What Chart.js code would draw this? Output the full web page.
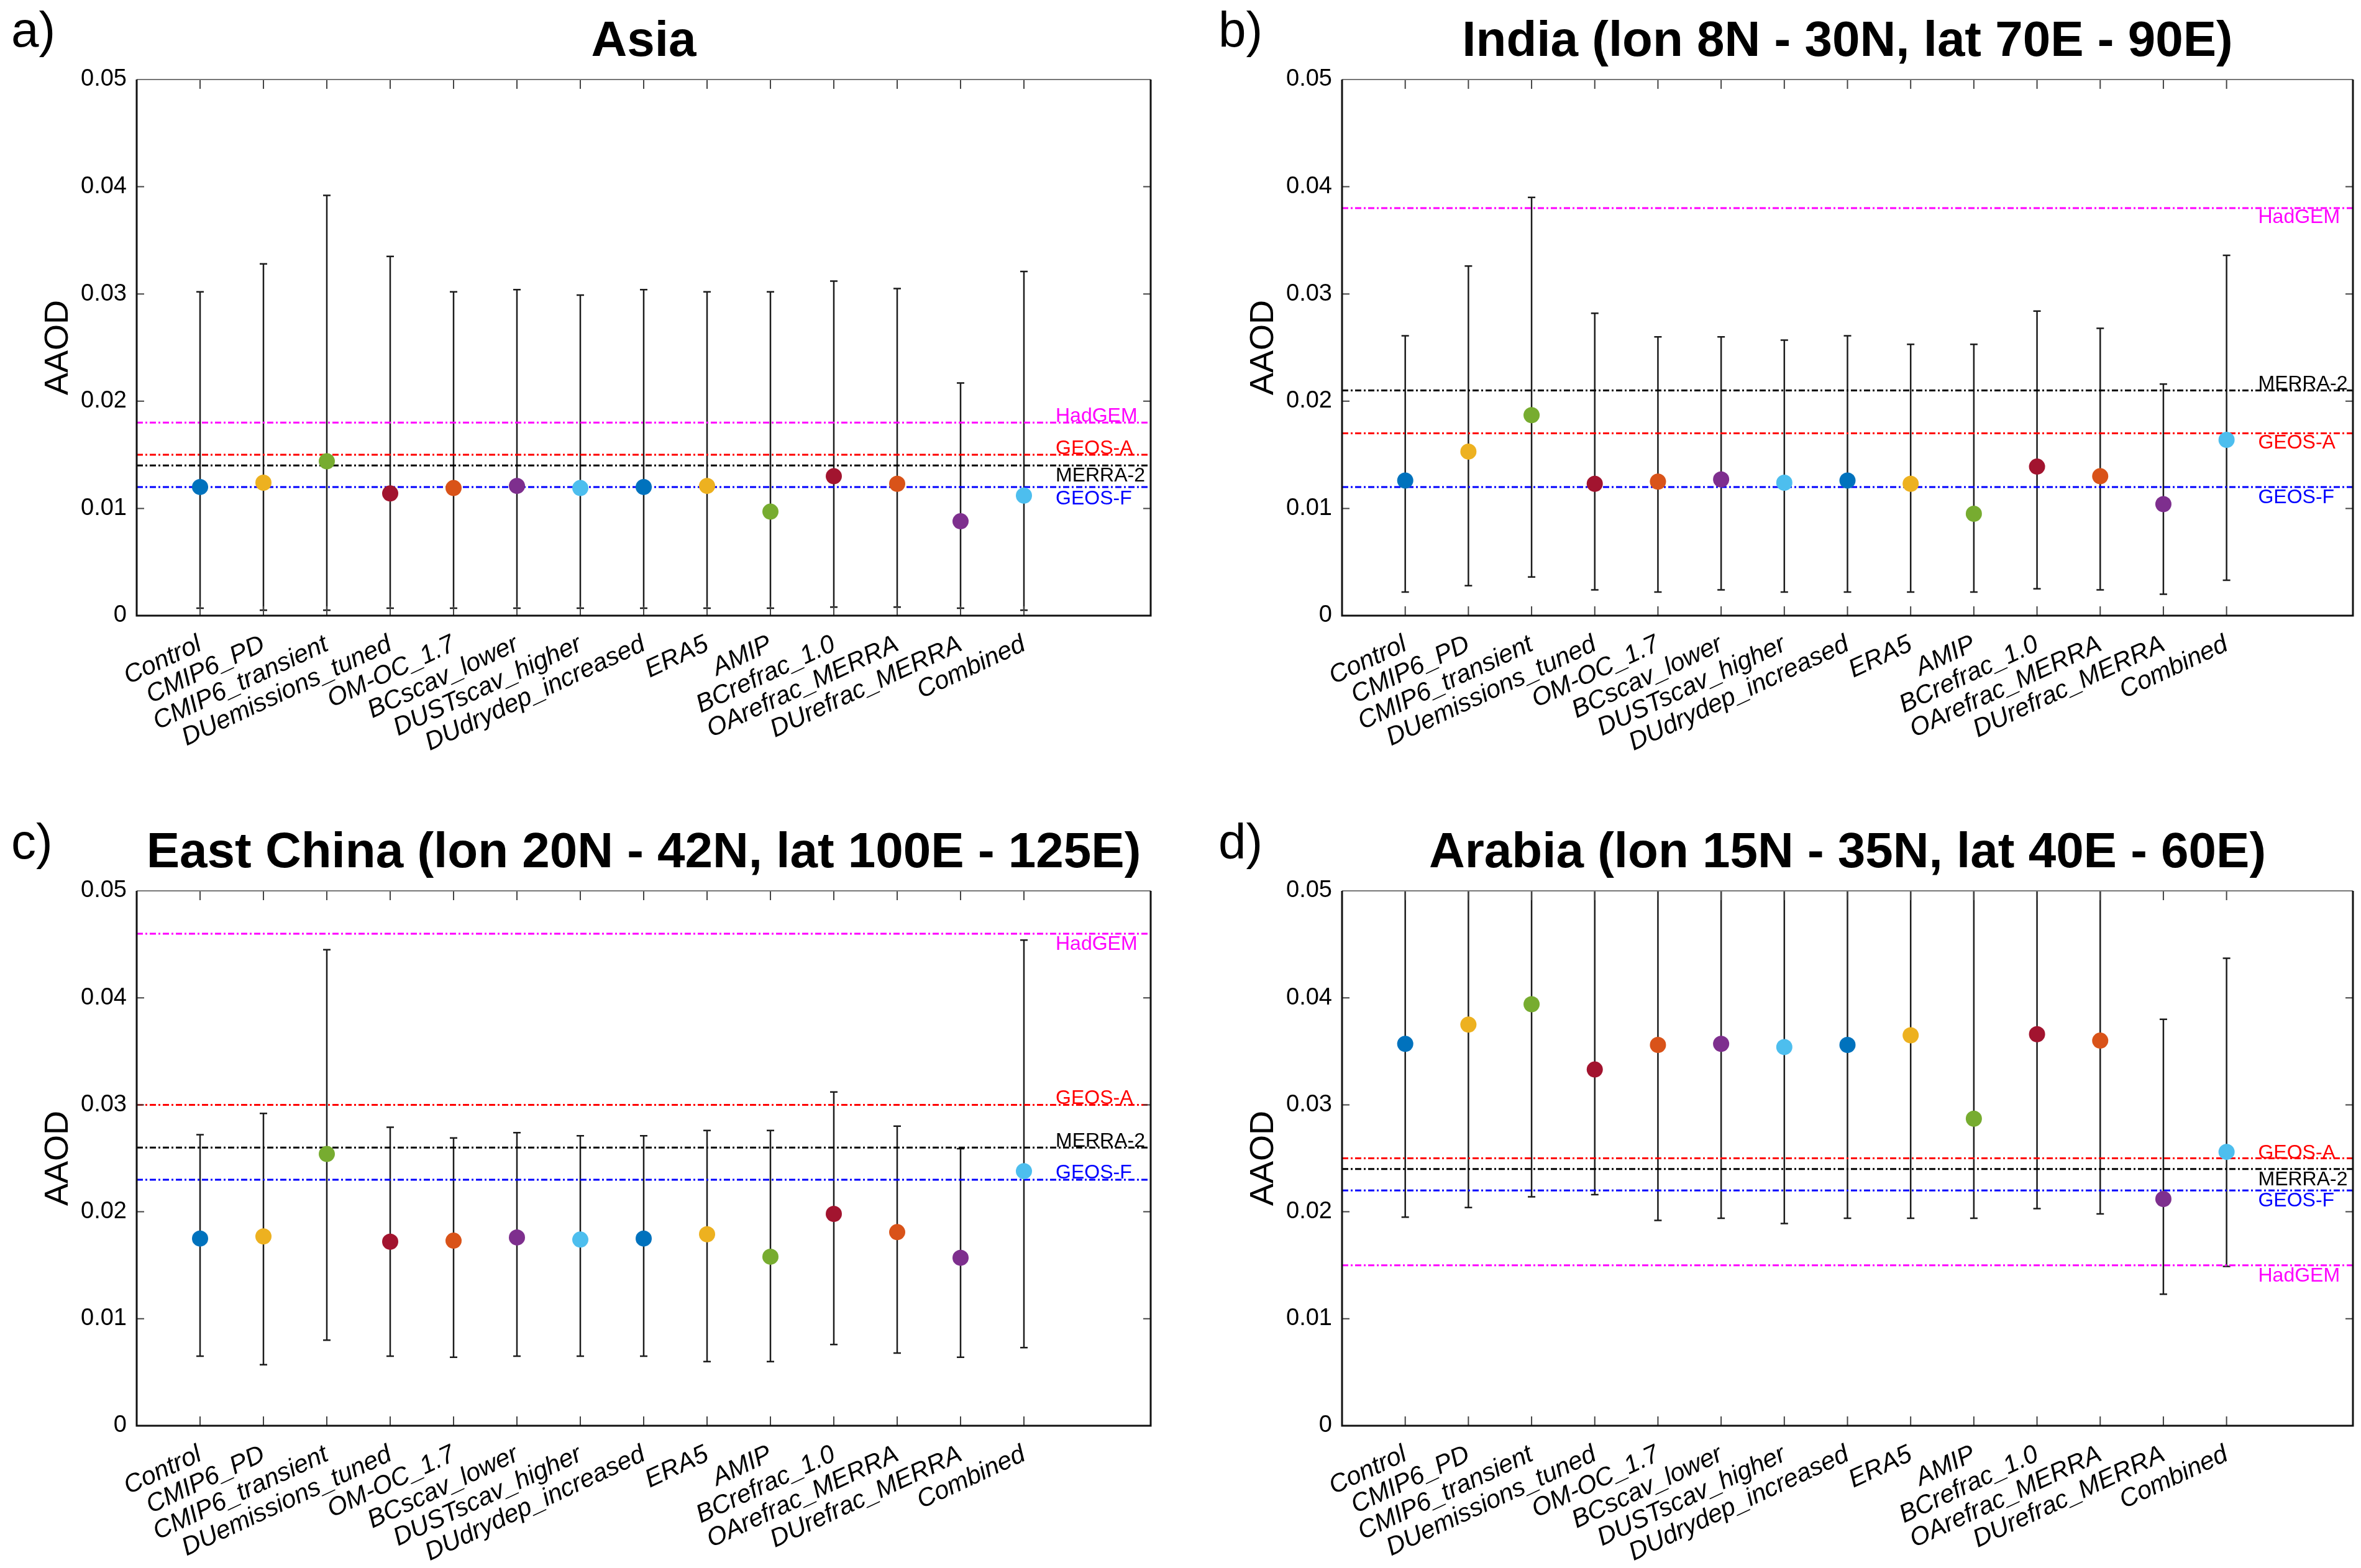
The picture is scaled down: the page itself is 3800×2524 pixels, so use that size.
<!DOCTYPE html>
<html>
<head>
<meta charset="utf-8">
<script src="https://cdn.jsdelivr.net/npm/chart.js@4.4.1/dist/chart.umd.min.js"></script>
<style>
  html, body { margin: 0; padding: 0; background: #fff; }
  #wrap { position: relative; width: 3800px; height: 2524px; }
  .cell { position: absolute; width: 1900px; height: 1262px; }
  .cell canvas { display: block; width: 1900px; height: 1262px; }
</style>
</head>
<body>
<div id="wrap">
  <div class="cell" style="left:0;top:0"><canvas id="c0" width="1900" height="1262"></canvas></div>
  <div class="cell" style="left:1900px;top:0"><canvas id="c1" width="1900" height="1262"></canvas></div>
  <div class="cell" style="left:0;top:1262px"><canvas id="c2" width="1900" height="1262"></canvas></div>
  <div class="cell" style="left:1900px;top:1262px"><canvas id="c3" width="1900" height="1262"></canvas></div>
</div>
<script>
const categories = ["Control", "CMIP6_PD", "CMIP6_transient", "DUemissions_tuned", "OM-OC_1.7",
  "BCscav_lower", "DUSTscav_higher", "DUdrydep_increased", "ERA5", "AMIP",
  "BCrefrac_1.0", "OArefrac_MERRA", "DUrefrac_MERRA", "Combined"];
const pointColors = ["#0072BD", "#EDB120", "#77AC30", "#A2142F", "#D95319", "#7E2F8E", "#4DBEEE",
  "#0072BD", "#EDB120", "#77AC30", "#A2142F", "#D95319", "#7E2F8E", "#4DBEEE"];
const yTickLabels = ["0", "0.01", "0.02", "0.03", "0.04", "0.05"];

const refNames = ["HadGEM", "GEOS-A", "MERRA-2", "GEOS-F"];
const refColors = ["#ff00ff", "#ff0000", "#000000", "#0000ff"];

// a) Asia
const asiaMean = [0.0120, 0.0124, 0.0144, 0.0114, 0.0119, 0.0121, 0.0119, 0.0120, 0.0121, 0.0097, 0.0130, 0.0123, 0.0088, 0.0112];
const asiaLow  = [0.0007, 0.0005, 0.0005, 0.0007, 0.0007, 0.0007, 0.0007, 0.0007, 0.0007, 0.0007, 0.0008, 0.0008, 0.0007, 0.0005];
const asiaHigh = [0.0302, 0.0328, 0.0392, 0.0335, 0.0302, 0.0304, 0.0299, 0.0304, 0.0302, 0.0302, 0.0312, 0.0305, 0.0217, 0.0321];
const asiaRef = [0.018, 0.015, 0.014, 0.012];
const asiaRefText = [0.0186, 0.0156, 0.0130, 0.0109];

// b) India
const indiaMean = [0.0126, 0.0153, 0.0187, 0.0123, 0.0125, 0.0127, 0.0124, 0.0126, 0.0123, 0.0095, 0.0139, 0.0130, 0.0104, 0.0164];
const indiaLow  = [0.0022, 0.0028, 0.0036, 0.0024, 0.0022, 0.0024, 0.0022, 0.0022, 0.0022, 0.0022, 0.0025, 0.0024, 0.0020, 0.0033];
const indiaHigh = [0.0261, 0.0326, 0.0390, 0.0282, 0.0260, 0.0260, 0.0257, 0.0261, 0.0253, 0.0253, 0.0284, 0.0268, 0.0216, 0.0336];
const indiaRef = [0.038, 0.017, 0.021, 0.012];
const indiaRefText = [0.0371, 0.0161, 0.0216, 0.0110];

// c) East China
const chinaMean = [0.0175, 0.0177, 0.0254, 0.0172, 0.0173, 0.0176, 0.0174, 0.0175, 0.0179, 0.0158, 0.0198, 0.0181, 0.0157, 0.0238];
const chinaLow  = [0.0065, 0.0057, 0.0080, 0.0065, 0.0064, 0.0065, 0.0065, 0.0065, 0.0060, 0.0060, 0.0076, 0.0068, 0.0064, 0.0073];
const chinaHigh = [0.0272, 0.0292, 0.0445, 0.0279, 0.0269, 0.0274, 0.0271, 0.0271, 0.0276, 0.0276, 0.0312, 0.0280, 0.0259, 0.0454];
const chinaRef = [0.046, 0.030, 0.026, 0.023];
const chinaRefText = [0.0450, 0.0306, 0.0266, 0.0236];

// d) Arabia (most upper ends run past the 0.05 frame)
const arabiaMean = [0.0357, 0.0375, 0.0394, 0.0333, 0.0356, 0.0357, 0.0354, 0.0356, 0.0365, 0.0287, 0.0366, 0.0360, 0.0212, 0.0256];
const arabiaLow  = [0.0195, 0.0204, 0.0214, 0.0216, 0.0192, 0.0194, 0.0189, 0.0194, 0.0194, 0.0194, 0.0203, 0.0198, 0.0123, 0.0149];
const arabiaHigh = [0.0519, 0.0546, 0.0574, 0.0512, 0.0520, 0.0521, 0.0519, 0.0519, 0.0537, 0.0505, 0.0530, 0.0522, 0.0380, 0.0437];
const arabiaRef = [0.015, 0.025, 0.024, 0.022];
const arabiaRefText = [0.0140, 0.0255, 0.0230, 0.0210];

const panels = [
  { id: "c0", tag: "a)", title: "Asia", mean: asiaMean, low: asiaLow, high: asiaHigh, ref: asiaRef, refText: asiaRefText, col: 0, row: 0 },
  { id: "c1", tag: "b)", title: "India (lon 8N - 30N, lat 70E - 90E)", mean: indiaMean, low: indiaLow, high: indiaHigh, ref: indiaRef, refText: indiaRefText, col: 1, row: 0 },
  { id: "c2", tag: "c)", title: "East China (lon 20N - 42N, lat 100E - 125E)", mean: chinaMean, low: chinaLow, high: chinaHigh, ref: chinaRef, refText: chinaRefText, col: 0, row: 1 },
  { id: "c3", tag: "d)", title: "Arabia (lon 15N - 35N, lat 40E - 60E)", mean: arabiaMean, low: arabiaLow, high: arabiaHigh, ref: arabiaRef, refText: arabiaRefText, col: 1, row: 1 }
];

const FONT = "'Liberation Sans', Arial, Helvetica, sans-serif";
Chart.defaults.font.family = FONT;
Chart.defaults.color = "#000";

function decorPlugin(p) {
  return {
    id: "decor",
    beforeDatasetsDraw(chart) {
      const { ctx, chartArea: a, scales: { x, y } } = chart;
      ctx.save();
      ctx.beginPath();
      ctx.rect(a.left, a.top, a.right - a.left, a.bottom - a.top);
      ctx.clip();
      ctx.strokeStyle = "#1c1c1c";
      ctx.lineWidth = 2.5;
      p.low.forEach((lo, i) => {
        const px = x.getPixelForValue(i + 1);
        const y0 = y.getPixelForValue(lo);
        const y1 = y.getPixelForValue(p.high[i]);
        ctx.beginPath();
        ctx.moveTo(px, y0); ctx.lineTo(px, y1);
        ctx.moveTo(px - 6, y0); ctx.lineTo(px + 6, y0);
        ctx.moveTo(px - 6, y1); ctx.lineTo(px + 6, y1);
        ctx.stroke();
      });
      ctx.restore();
    },
    afterDatasetsDraw(chart) {
      const { ctx, chartArea: a, scales: { x, y } } = chart;
      ctx.save();
      // reference line names
      ctx.font = "32px " + FONT;
      ctx.textAlign = "left";
      ctx.textBaseline = "middle";
      refNames.forEach((n, i) => {
        ctx.fillStyle = refColors[i];
        ctx.fillText(n, x.getPixelForValue(14.5), y.getPixelForValue(p.refText[i]));
      });
      // inner ticks
      ctx.strokeStyle = "#444";
      ctx.lineWidth = 2;
      ctx.beginPath();
      categories.forEach((c, i) => {
        const px = x.getPixelForValue(i + 1);
        ctx.moveTo(px, a.bottom); ctx.lineTo(px, a.bottom - 15);
        ctx.moveTo(px, a.top); ctx.lineTo(px, a.top + 15);
      });
      y.ticks.forEach(t => {
        const py = y.getPixelForValue(t.value);
        ctx.moveTo(a.left, py); ctx.lineTo(a.left + 12, py);
        ctx.moveTo(a.right, py); ctx.lineTo(a.right - 12, py);
      });
      ctx.stroke();
      // box
      ctx.strokeStyle = "#777";
      ctx.lineWidth = 2;
      ctx.beginPath();
      ctx.moveTo(a.left, a.top); ctx.lineTo(a.right, a.top);
      ctx.stroke();
      ctx.strokeStyle = "#111";
      ctx.lineWidth = 3;
      ctx.beginPath();
      ctx.moveTo(a.left, a.top); ctx.lineTo(a.left, a.bottom); ctx.lineTo(a.right, a.bottom); ctx.lineTo(a.right, a.top);
      ctx.stroke();
      ctx.restore();
    },
    afterDraw(chart) {
      const ctx = chart.ctx;
      ctx.save();
      ctx.font = "80px " + FONT;
      ctx.fillStyle = "#000";
      ctx.textAlign = "left";
      ctx.textBaseline = "alphabetic";
      ctx.fillText(p.tag, p.col ? 61 : 18, p.row ? 120 : 75);
      ctx.restore();
    }
  };
}

panels.forEach(p => {
  const refSets = p.ref.map((v, i) => ({
    type: "line",
    data: [{ x: 0, y: v }, { x: 16, y: v }],
    borderColor: refColors[i],
    borderWidth: 3,
    borderDash: [10, 4, 3, 4],
    pointRadius: 0,
    order: 1
  }));
  new Chart(document.getElementById(p.id), {
    type: "scatter",
    data: {
      datasets: [
        ...refSets,
        {
          type: "scatter",
          data: p.mean.map((v, i) => ({ x: i + 1, y: v })),
          pointRadius: 13,
          pointBorderWidth: 0,
          pointBackgroundColor: pointColors,
          order: 0
        }
      ]
    },
    options: {
      responsive: false,
      devicePixelRatio: 1,
      animation: false,
      events: [],
      layout: { padding: { left: p.col ? 40 : 0, right: p.col ? 8 : 48, top: p.row ? 44 : 0, bottom: 0 } },
      plugins: {
        legend: { display: false },
        tooltip: { enabled: false },
        title: {
          display: true,
          text: p.title,
          fullSize: false,
          font: { size: 80, weight: "bold", lineHeight: 1.2 },
          color: "#000",
          padding: { top: 20, bottom: 12 }
        }
      },
      scales: {
        x: {
          type: "linear",
          min: 0,
          max: 16,
          grid: { display: false, drawTicks: false },
          border: { display: false },
          afterBuildTicks: s => { s.ticks = categories.map((c, i) => ({ value: i + 1 })); },
          afterFit: s => { s.height = p.row ? 229 : 271; },
          ticks: {
            autoSkip: false,
            minRotation: 25,
            maxRotation: 25,
            padding: 22,
            color: "#000",
            font: { size: 41, style: "italic" },
            callback: (v, i) => categories[i]
          }
        },
        y: {
          min: 0,
          max: 0.05,
          grid: { display: false, drawTicks: false },
          border: { display: false },
          afterFit: s => { s.width = 220; },
          ticks: {
            stepSize: 0.01,
            padding: 16,
            color: "#000",
            font: { size: 38 },
            callback: (v, i) => yTickLabels[i]
          },
          title: {
            display: true,
            text: "AAOD",
            color: "#000",
            font: { size: 54, lineHeight: 1.2 },
            padding: { top: 62, bottom: 0 }
          }
        }
      }
    },
    plugins: [decorPlugin(p)]
  });
});
</script>
</body>
</html>
